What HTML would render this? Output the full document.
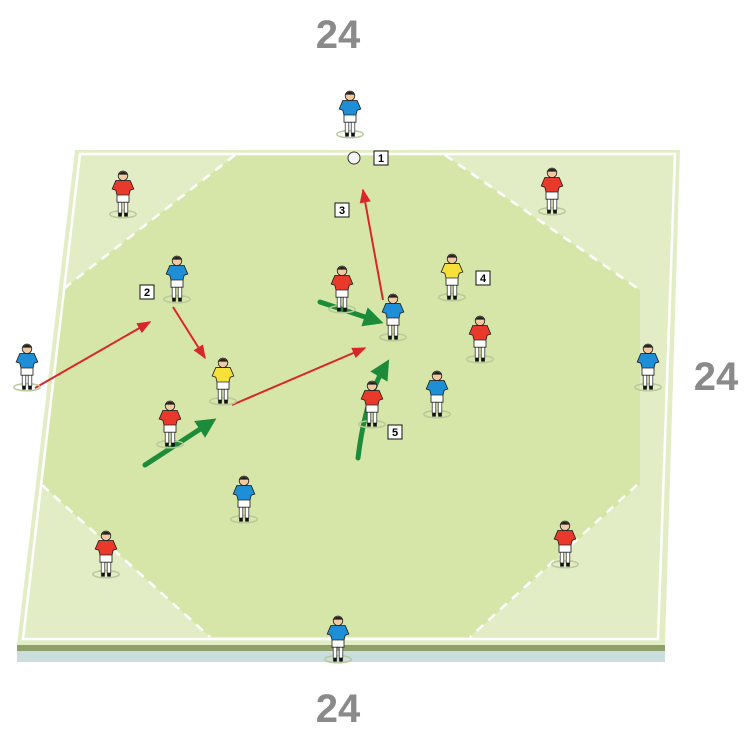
<!DOCTYPE html>
<html><head><style>body{margin:0;background:#fff}svg{display:block}</style></head><body>
<svg width="750" height="735" viewBox="0 0 750 735" xmlns="http://www.w3.org/2000/svg" font-family="Liberation Sans, sans-serif">
<defs>
<g id="pl0">
<ellipse cx="0" cy="16" rx="11" ry="3" fill="none" stroke="#b8c89a" stroke-width="1.2"/>
<rect x="-4" y="5" width="3" height="10" fill="#fff" stroke="#222" stroke-width="0.6"/>
<rect x="1" y="5" width="3" height="10" fill="#fff" stroke="#222" stroke-width="0.6"/>
<rect x="-5" y="-1" width="10" height="7" fill="#fff" stroke="#222" stroke-width="0.7"/>
<path d="M-6,-12 L6,-12 L9,-5 L6,-4 L5,0 L-5,0 L-6,-4 L-9,-5 Z" fill="currentColor" stroke="#222" stroke-width="0.7"/>
<circle cx="0" cy="-16" r="4" fill="#f2c9a0" stroke="#222" stroke-width="0.7"/>
<path d="M-4,-17 Q0,-22 4,-17" fill="#222"/>
<rect x="-4" y="15" width="3" height="3" fill="#111"/><rect x="1" y="15" width="3" height="3" fill="#111"/>
</g>
<g id="pl"><use href="#pl0" transform="scale(1.2)"/></g>
<marker id="ar" viewBox="0 0 10 10" refX="9" refY="5" markerWidth="7" markerHeight="7" orient="auto"><path d="M0,1 L10,5 L0,9 Z" fill="#d8262c"/></marker>
<marker id="ag" viewBox="0 0 10 10" refX="5" refY="5" markerWidth="4" markerHeight="4" orient="auto"><path d="M0,0 L10,5 L0,10 Z" fill="#1c8c3a"/></marker>
</defs>
<polygon points="17,650 665,650 665,662 17,662" fill="#cadedd"/>
<polygon points="17,645 665,645 665,651 17,651" fill="#8fa06a"/>
<polygon points="75,150 680,150 665,645 17,645" fill="#e3edc5"/>
<polygon points="235,155 445,155 640,290 640,485 470,637 210,637 42,485 62,290" fill="#d6e6a8"/>
<polygon points="80,154 675,154 658,639 23,639" fill="none" stroke="#fff" stroke-width="2.5"/>
<g stroke="#fff" stroke-width="2.5" stroke-dasharray="9,7" fill="none">
<line x1="235" y1="155" x2="62" y2="290"/><line x1="445" y1="155" x2="640" y2="290"/>
<line x1="42" y1="485" x2="210" y2="637"/><line x1="637" y1="485" x2="470" y2="637"/>
</g>
<g fill="#8a8a8a" font-weight="bold" font-size="40" text-anchor="middle">
<text x="338" y="48">24</text><text x="716" y="390">24</text><text x="338" y="722">24</text>
</g>
<g stroke-width="2" fill="none" marker-end="url(#ar)" stroke="#d8262c">
<line x1="35" y1="388" x2="150" y2="322"/><line x1="173" y1="307" x2="205" y2="358"/>
<line x1="232" y1="405" x2="365" y2="348"/><line x1="383" y1="300" x2="363" y2="190"/>
</g>
<g stroke="#1c8c3a" stroke-width="5" fill="none" stroke-linecap="round" marker-end="url(#ag)">
<line x1="145" y1="465" x2="208" y2="424"/><line x1="320" y1="302" x2="374" y2="320"/>
<path d="M358,458 Q365,400 384,368"/>
</g>
<g>
<use href="#pl" x="350" y="115" color="#1e8fd6"/><use href="#pl" x="123" y="195" color="#e8392b"/>
<use href="#pl" x="552" y="192" color="#e8392b"/><use href="#pl" x="177" y="280" color="#1e8fd6"/>
<use href="#pl" x="342" y="290" color="#e8392b"/><use href="#pl" x="393" y="318" color="#1e8fd6"/>
<use href="#pl" x="452" y="278" color="#f5e13a"/><use href="#pl" x="480" y="340" color="#e8392b"/>
<use href="#pl" x="27" y="368" color="#1e8fd6"/><use href="#pl" x="223" y="382" color="#f5e13a"/>
<use href="#pl" x="170" y="425" color="#e8392b"/><use href="#pl" x="437" y="395" color="#1e8fd6"/>
<use href="#pl" x="372" y="405" color="#e8392b"/><use href="#pl" x="648" y="368" color="#1e8fd6"/>
<use href="#pl" x="244" y="500" color="#1e8fd6"/><use href="#pl" x="106" y="555" color="#e8392b"/>
<use href="#pl" x="565" y="545" color="#e8392b"/><use href="#pl" x="338" y="640" color="#1e8fd6"/>
</g>
<circle cx="354" cy="158" r="6" fill="#f4f4f4" stroke="#333" stroke-width="1"/>
<g font-size="11" font-weight="bold" text-anchor="middle">
<rect x="374" y="151" width="14" height="14" fill="#fff" stroke="#111"/><text x="381" y="162">1</text>
<rect x="140" y="285" width="14" height="14" fill="#fff" stroke="#111"/><text x="147" y="296">2</text>
<rect x="335" y="203" width="14" height="14" fill="#fff" stroke="#111"/><text x="342" y="214">3</text>
<rect x="476" y="271" width="14" height="14" fill="#fff" stroke="#111"/><text x="483" y="282">4</text>
<rect x="388" y="425" width="14" height="14" fill="#fff" stroke="#111"/><text x="395" y="436">5</text>
</g>
</svg>
</body></html>
